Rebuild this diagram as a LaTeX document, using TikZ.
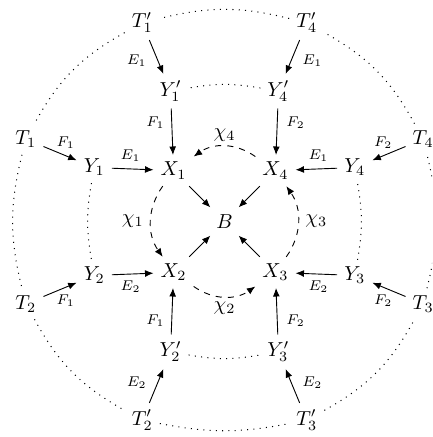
\documentclass[tikz,border=0pt]{standalone}
\usetikzlibrary{arrows.meta}
\begin{document}
\begin{tikzpicture}[x=0.494pt,y=0.494pt,
  arr/.style={-{Latex[length=4.2pt,width=3.4pt]}, line width=0.45pt},
  lab/.style={font=\scriptsize},
  ring/.style={line width=0.5pt, dash pattern=on 0.5pt off 2.6pt},
  chiarc/.style={arr, dash pattern=on 3pt off 3pt}]
\clip (-224.5,-215.5) rectangle (207.5,221.5);
% centre and inner ring
\node (B) at (0,0) {$B$};
\node (X1) at (135:72) {$X_1$};
\node (X4) at (45:72) {$X_4$};
\node (X2) at (225:72) {$X_2$};
\node (X3) at (315:72) {$X_3$};
% middle ring
\node (Y1) at (157.5:141) {$Y_1$};
\node (Y4) at (22.5:141) {$Y_4$};
\node (Y2) at (202.5:141) {$Y_2$};
\node (Y3) at (337.5:141) {$Y_3$};
\node (Y1p) at (112.5:141) {$Y_1'$};
\node (Y4p) at (67.5:141) {$Y_4'$};
\node (Y2p) at (247.5:141) {$Y_2'$};
\node (Y3p) at (292.5:141) {$Y_3'$};
% outer ring
\node (T1) at (157.5:215) {$T_1$};
\node (T4) at (22.5:215) {$T_4$};
\node (T2) at (202.5:215) {$T_2$};
\node (T3) at (337.5:215) {$T_3$};
\node (T1p) at (112.5:215) {$T_1'$};
\node (T4p) at (67.5:215) {$T_4'$};
\node (T2p) at (247.5:215) {$T_2'$};
\node (T3p) at (292.5:215) {$T_3'$};
% X -> B
\draw[arr] (X1) -- (B);
\draw[arr] (X4) -- (B);
\draw[arr] (X2) -- (B);
\draw[arr] (X3) -- (B);
% dashed chi arcs
\draw[chiarc] (X4) to[bend right=35] node[midway,above,inner sep=2pt] {$\chi_4$} (X1);
\draw[chiarc] (X1) to[bend right=35] node[midway,left] {$\chi_1$} (X2);
\draw[chiarc] (X2) to[bend right=35] node[midway,below,inner sep=2pt] {$\chi_2$} (X3);
\draw[chiarc] (X3) to[bend right=35] node[midway,right] {$\chi_3$} (X4);
% Y -> X
\draw[arr] (Y1) -- node[lab,pos=0.45,above] {$E_1$} (X1);
\draw[arr] (Y4) -- node[lab,pos=0.45,above] {$E_1$} (X4);
\draw[arr] (Y2) -- node[lab,pos=0.45,below] {$E_2$} (X2);
\draw[arr] (Y3) -- node[lab,pos=0.45,below] {$E_2$} (X3);
\draw[arr] (Y1p) -- node[lab,pos=0.3,left] {$F_1$} (X1);
\draw[arr] (Y4p) -- node[lab,pos=0.3,right,xshift=1pt] {$F_2$} (X4);
\draw[arr] (Y2p) -- node[lab,pos=0.3,left] {$F_1$} (X2);
\draw[arr] (Y3p) -- node[lab,pos=0.3,right,xshift=1pt] {$F_2$} (X3);
% T -> Y
\draw[arr] (T1) -- node[lab,pos=0.67,above] {$F_1$} (Y1);
\draw[arr] (T4) -- node[lab,pos=0.67,above] {$F_2$} (Y4);
\draw[arr] (T2) -- node[lab,pos=0.67,below] {$F_1$} (Y2);
\draw[arr] (T3) -- node[lab,pos=0.67,below] {$F_2$} (Y3);
\draw[arr] (T1p) -- node[lab,pos=0.6,left,xshift=-2pt] {$E_1$} (Y1p);
\draw[arr] (T4p) -- node[lab,pos=0.6,right,xshift=2pt] {$E_1$} (Y4p);
\draw[arr] (T2p) -- node[lab,pos=0.6,left,xshift=-2pt] {$E_2$} (Y2p);
\draw[arr] (T3p) -- node[lab,pos=0.6,right,xshift=2pt] {$E_2$} (Y3p);
% dotted middle ring
\draw[ring] (Y4p) to[bend right=10] (Y1p);
\draw[ring] (Y1) to[bend right=10] (Y2);
\draw[ring] (Y2p) to[bend right=10] (Y3p);
\draw[ring] (Y3) to[bend right=10] (Y4);
% dotted outer ring
\draw[ring] (T4p) to[bend right=14] (T1p);
\draw[ring] (T1p) to[bend right=16] (T1);
\draw[ring] (T1) to[bend right=14] (T2);
\draw[ring] (T2) to[bend right=16] (T2p);
\draw[ring] (T2p) to[bend right=11] (T3p);
\draw[ring] (T3p) to[bend right=16] (T3);
\draw[ring] (T3) to[bend right=14] (T4);
\draw[ring] (T4) to[bend right=16] (T4p);
\end{tikzpicture}
\end{document}
